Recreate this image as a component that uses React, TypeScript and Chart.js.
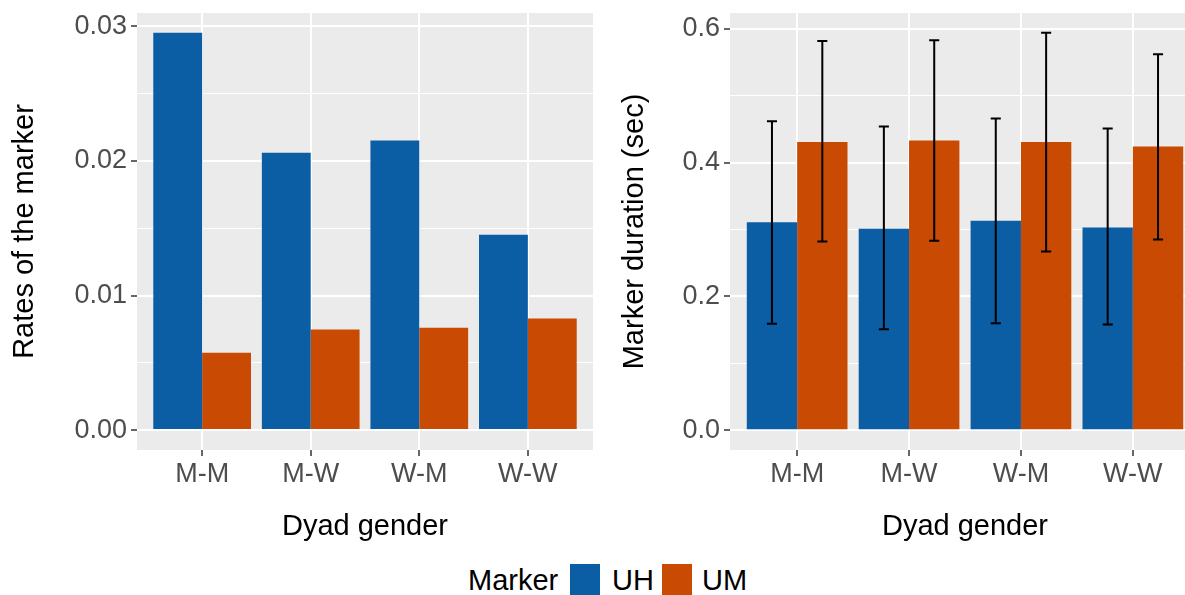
import { useEffect, useRef } from "react";
import { Chart, registerables } from "chart.js";

Chart.register(...registerables);

// ---------- data ----------
const categories = ["M-M", "M-W", "W-M", "W-W"];
const seriesNames = ["UH", "UM"];

const rateUH = [0.02953, 0.02061, 0.02153, 0.01452];
const rateUM = [0.00575, 0.00748, 0.00761, 0.0083];

const durUH = [0.311, 0.301, 0.313, 0.303];
const durUM = [0.431, 0.433, 0.431, 0.424];
const durUHLow = [0.159, 0.151, 0.16, 0.158];
const durUHHigh = [0.462, 0.454, 0.466, 0.451];
const durUMLow = [0.282, 0.283, 0.267, 0.285];
const durUMHigh = [0.582, 0.583, 0.594, 0.562];

const rateTicks = [0, 0.01, 0.02, 0.03];
const rateTickLabels = ["0.00", "0.01", "0.02", "0.03"];
const rateMinorTicks = [0.005, 0.015, 0.025];

const durTicks = [0, 0.2, 0.4, 0.6];
const durTickLabels = ["0.0", "0.2", "0.4", "0.6"];
const durMinorTicks = [0.1, 0.3, 0.5];

const xTitle = "Dyad gender";
const legendTitle = "Marker";

// ---------- styles ----------
const BLUE = "#0B5DA4";
const ORANGE = "#C94A03";
const PANEL = "#EBEBEB";
const FONT = "'Liberation Sans', Arial, Helvetica, sans-serif";
const tickFont = { family: FONT, size: 27, lineHeight: 1.2 };
const titleFont = { family: FONT, size: 29, lineHeight: 1.2 };

const categoryPositions = categories.map((_, i) => i + 1);

const panelBg = {
  id: "panelBg",
  beforeDraw(chart: any) {
    const { ctx, chartArea: a } = chart;
    ctx.save();
    ctx.fillStyle = PANEL;
    ctx.fillRect(a.left, a.top, a.right - a.left, a.bottom - a.top);
    ctx.restore();
  },
};

function makeErrorBars(lows: number[][], highs: number[][]) {
  return {
    id: "errorBars",
    afterDatasetsDraw(chart: any) {
      const { ctx } = chart;
      const yScale = chart.scales.y;
      ctx.save();
      ctx.strokeStyle = "#000000";
      ctx.lineWidth = 2;
      lows.forEach((low, d) => {
        const meta = chart.getDatasetMeta(d);
        meta.data.forEach((el: any, i: number) => {
          const x = el.x;
          const half = el.width * 0.1;
          const y1 = yScale.getPixelForValue(low[i]);
          const y2 = yScale.getPixelForValue(highs[d][i]);
          ctx.beginPath();
          ctx.moveTo(x, y1);
          ctx.lineTo(x, y2);
          ctx.moveTo(x - half, y1);
          ctx.lineTo(x + half, y1);
          ctx.moveTo(x - half, y2);
          ctx.lineTo(x + half, y2);
          ctx.stroke();
        });
      });
      ctx.restore();
    },
  };
}

interface Cfg {
  uh: number[];
  um: number[];
  yMin: number;
  yMax: number;
  major: number[];
  majorLabels: string[];
  minor: number[];
  yTitle: string;
  yAxisWidth: number;
  yTitlePad: number;
  rightPad: number;
  extraPlugins: any[];
}

function makeConfig(c: Cfg): any {
  const isMajor = (v: number) => c.major.some((m) => Math.abs(m - v) < 1e-9);
  return {
    type: "bar",
    data: {
      datasets: [
        {
          label: seriesNames[0],
          data: categoryPositions.map((x, i) => ({ x, y: c.uh[i] })),
          backgroundColor: BLUE,
          borderWidth: 0,
        },
        {
          label: seriesNames[1],
          data: categoryPositions.map((x, i) => ({ x, y: c.um[i] })),
          backgroundColor: ORANGE,
          borderWidth: 0,
        },
      ],
    },
    options: {
      responsive: false,
      animation: false,
      devicePixelRatio: 1,
      categoryPercentage: 0.9,
      barPercentage: 1.0,
      layout: { padding: { top: 13, right: c.rightPad, bottom: 0, left: 0 } },
      plugins: {
        legend: { display: false },
        tooltip: { enabled: false },
        title: { display: false },
      },
      scales: {
        x: {
          type: "linear",
          min: 0.4,
          max: 4.6,
          bounds: "data",
          offset: false,
          afterBuildTicks: (axis: any) => {
            axis.ticks = categoryPositions.map((v) => ({ value: v }));
          },
          afterFit: (axis: any) => {
            axis.height = 95;
            axis.paddingLeft = 0;
            axis.paddingRight = 0;
          },
          ticks: {
            autoSkip: false,
            maxRotation: 0,
            minRotation: 0,
            padding: 2,
            color: "#4D4D4D",
            font: tickFont,
            callback: (v: number) => categories[Math.round(v) - 1] ?? "",
          },
          grid: {
            offset: false,
            color: "#FFFFFF",
            lineWidth: 2,
            tickColor: "#333333",
            tickLength: 6,
            tickWidth: 1.5,
          },
          border: { display: false },
          title: {
            display: true,
            text: xTitle,
            color: "#000000",
            font: titleFont,
            padding: { top: 0, bottom: 1 },
          },
        },
        y: {
          type: "linear",
          min: c.yMin,
          max: c.yMax,
          bounds: "data",
          afterBuildTicks: (axis: any) => {
            axis.ticks = [...c.major, ...c.minor]
              .sort((a, b) => a - b)
              .map((v) => ({ value: v }));
          },
          afterFit: (axis: any) => {
            axis.width = c.yAxisWidth;
            axis.paddingTop = 0;
            axis.paddingBottom = 0;
          },
          ticks: {
            autoSkip: false,
            padding: 4,
            color: "#4D4D4D",
            font: tickFont,
            callback: (v: number) => {
              const i = c.major.findIndex((m) => Math.abs(m - v) < 1e-9);
              return i >= 0 ? c.majorLabels[i] : "";
            },
          },
          grid: {
            color: "#FFFFFF",
            lineWidth: (ctx: any) => (isMajor(ctx.tick?.value) ? 2 : 1),
            tickColor: (ctx: any) =>
              isMajor(ctx.tick?.value) ? "#333333" : "rgba(0,0,0,0)",
            tickLength: 6,
            tickWidth: 1.5,
          },
          border: { display: false },
          title: {
            display: true,
            text: c.yTitle,
            color: "#000000",
            font: titleFont,
            padding: { top: c.yTitlePad, bottom: 0 },
          },
        },
      },
    },
    plugins: [panelBg, ...c.extraPlugins],
  };
}

function ChartCanvas({ cfg, left, width, height }: { cfg: Cfg; left: number; width: number; height: number }) {
  const ref = useRef<HTMLCanvasElement>(null);
  useEffect(() => {
    if (!ref.current) return;
    const chart = new Chart(ref.current, makeConfig(cfg));
    return () => chart.destroy();
  }, []);
  return (
    <canvas
      ref={ref}
      width={width}
      height={height}
      style={{ position: "absolute", left, top: 0, width, height, display: "block" }}
    />
  );
}

const leftCfg: Cfg = {
  uh: rateUH,
  um: rateUM,
  yMin: -0.00148,
  yMax: 0.031,
  major: rateTicks,
  majorLabels: rateTickLabels,
  minor: rateMinorTicks,
  yTitle: "Rates of the marker",
  yAxisWidth: 137,
  yTitlePad: 8,
  rightPad: 7,
  extraPlugins: [],
};

const rightCfg: Cfg = {
  uh: durUH,
  um: durUM,
  yMin: -0.0297,
  yMax: 0.6237,
  major: durTicks,
  majorLabels: durTickLabels,
  minor: durMinorTicks,
  yTitle: "Marker duration (sec)",
  yAxisWidth: 130,
  yTitlePad: 18,
  rightPad: 0,
  extraPlugins: [makeErrorBars([durUHLow, durUMLow], [durUHHigh, durUMHigh])],
};

const legendText: any = {
  position: "absolute",
  top: 566,
  fontFamily: FONT,
  fontSize: 29,
  lineHeight: "29px",
  color: "#000000",
  whiteSpace: "nowrap",
};

export default function App() {
  return (
    <div
      style={{
        position: "fixed",
        left: 0,
        top: 0,
        width: 1185,
        height: 595,
        overflow: "hidden",
        background: "#FFFFFF",
      }}
    >
      <ChartCanvas cfg={leftCfg} left={0} width={600} height={545} />
      <ChartCanvas cfg={rightCfg} left={600} width={600} height={545} />
      <span style={{ ...legendText, left: 468 }}>{legendTitle}</span>
      <div style={{ position: "absolute", left: 570, top: 564, width: 30, height: 32, background: BLUE }} />
      <span style={{ ...legendText, left: 612 }}>{seriesNames[0]}</span>
      <div style={{ position: "absolute", left: 662, top: 564, width: 30, height: 32, background: ORANGE }} />
      <span style={{ ...legendText, left: 702 }}>{seriesNames[1]}</span>
    </div>
  );
}
